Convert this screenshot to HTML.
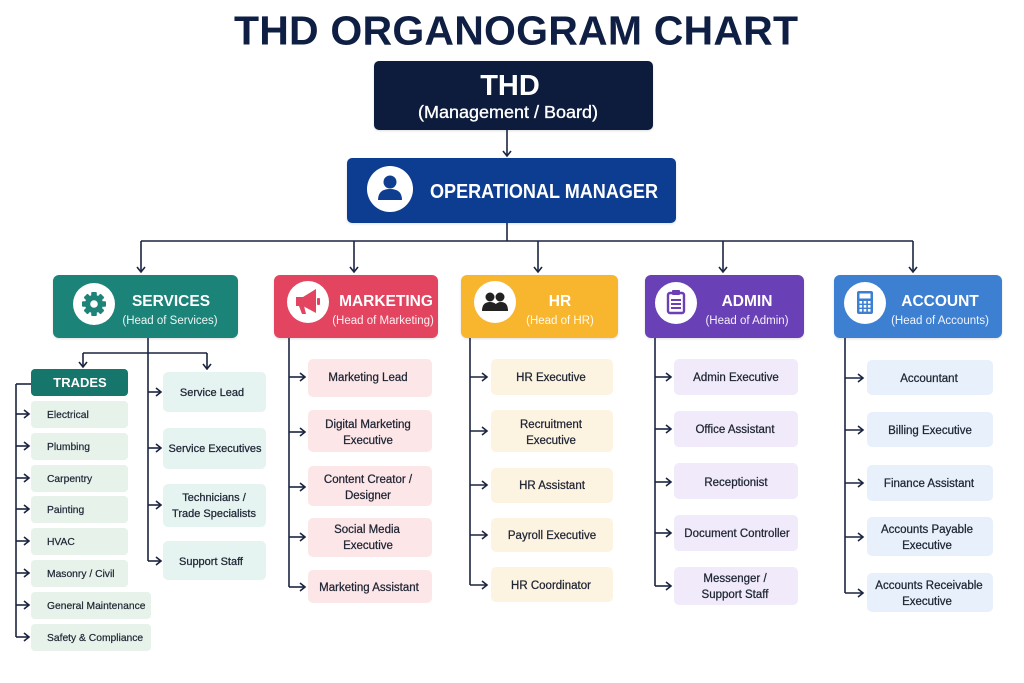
<!DOCTYPE html>
<html><head><meta charset="utf-8"><style>
html,body{margin:0;padding:0;background:#fff;}
svg{display:block;}
text{font-family:"Liberation Sans",Arial,sans-serif;}
.it{font-size:11.5px;fill:#1e2433;text-anchor:middle;stroke:#1e2433;stroke-width:0.25;}
.tr{font-size:10.3px;fill:#1e2433;stroke:#1e2433;stroke-width:0.2;}
.dt{font-size:15.5px;font-weight:bold;fill:#fff;text-anchor:middle;}
.ds{font-size:11.5px;fill:#fff;fill-opacity:0.92;text-anchor:middle;}
.ln{stroke:#1b2541;stroke-width:1.6;fill:none;}
</style></head><body>
<svg width="1024" height="683" viewBox="0 0 1024 683" xmlns="http://www.w3.org/2000/svg">
<defs>
<filter id="sh" x="-10%" y="-10%" width="120%" height="130%"><feDropShadow dx="0" dy="1" stdDeviation="1" flood-color="#000" flood-opacity="0.12"/></filter>
</defs>
<rect width="1024" height="683" fill="#ffffff"/>
<!-- Title -->
<text x="234" y="44.5" font-size="41" font-weight="bold" fill="#0f1f44" textLength="564" lengthAdjust="spacing">THD ORGANOGRAM CHART</text>

<!-- THD box -->
<rect x="374" y="61" width="279" height="69" rx="5" fill="#0b1a3c" filter="url(#sh)"/>
<text x="510" y="95" font-size="29" font-weight="bold" fill="#fff" text-anchor="middle">THD</text>
<text x="508" y="118" font-size="17.5" fill="#fff" stroke="#fff" stroke-width="0.35" text-anchor="middle" textLength="180" lengthAdjust="spacingAndGlyphs">(Management / Board)</text>

<!-- arrow THD -> OM -->
<line class="ln" x1="507" y1="130" x2="507" y2="156"/>
<polyline class="ln" points="503,151 507,156 511,151"/>

<!-- Op manager -->
<rect x="347" y="158" width="329" height="65" rx="5" fill="#0f3e91" filter="url(#sh)"/>
<circle cx="390" cy="189" r="23" fill="#fff"/>
<circle cx="390" cy="182" r="6.5" fill="#0f3e91"/>
<path d="M378,200 Q378,189 390,189 Q402,189 402,200 Z" fill="#0f3e91"/>
<text x="430" y="198" font-size="20" font-weight="bold" fill="#fff" textLength="228" lengthAdjust="spacingAndGlyphs">OPERATIONAL MANAGER</text>

<!-- main connectors -->
<line class="ln" x1="507" y1="223" x2="507" y2="241"/>
<line class="ln" x1="141" y1="241" x2="913" y2="241"/>
<g class="ln">
<line x1="141" y1="241" x2="141" y2="272"/><polyline points="137,267 141,272 145,267"/>
<line x1="354" y1="241" x2="354" y2="272"/><polyline points="350,267 354,272 358,267"/>
<line x1="538" y1="241" x2="538" y2="272"/><polyline points="534,267 538,272 542,267"/>
<line x1="723" y1="241" x2="723" y2="272"/><polyline points="719,267 723,272 727,267"/>
<line x1="913" y1="241" x2="913" y2="272"/><polyline points="909,267 913,272 917,267"/>
</g>

<!-- Department boxes -->
<rect x="53" y="275" width="185" height="63" rx="6" fill="#1e8379" filter="url(#sh)"/>
<rect x="274" y="275" width="164" height="63" rx="6" fill="#e34560" filter="url(#sh)"/>
<rect x="461" y="275" width="157" height="63" rx="6" fill="#f8b62d" filter="url(#sh)"/>
<rect x="645" y="275" width="159" height="63" rx="6" fill="#6b3fb6" filter="url(#sh)"/>
<rect x="834" y="275" width="168" height="63" rx="6" fill="#3d7fd1" filter="url(#sh)"/>

<!-- icons -->
<circle cx="94" cy="304" r="21" fill="#fff"/>
<g fill="#1e8379" transform="translate(94,304)">
<rect x="-2.8" y="-12" width="5.6" height="24" rx="1"/>
<rect x="-2.8" y="-12" width="5.6" height="24" rx="1" transform="rotate(45)"/>
<rect x="-2.8" y="-12" width="5.6" height="24" rx="1" transform="rotate(90)"/>
<rect x="-2.8" y="-12" width="5.6" height="24" rx="1" transform="rotate(135)"/>
<circle r="9"/>
<circle r="3.8" fill="#fff"/>
</g>
<circle cx="308" cy="302" r="21" fill="#fff"/>
<g fill="#e34560">
<path d="M296,297 L303,297 L316,289 L316,313 L303,306 L296,306 Z"/>
<rect x="317" y="298" width="3" height="7" rx="1"/>
<path d="M299,306 L304,306 L306,314 L302,314 Z"/>
</g>
<circle cx="495" cy="302" r="21" fill="#fff"/>
<g fill="#222">
<circle cx="490" cy="297" r="4.5"/>
<circle cx="500" cy="297" r="4.5"/>
<path d="M482,311 Q482,302 490,302 Q498,302 498,311 Z"/>
<path d="M494,311 Q494,302 501,302 Q508,302 508,311 Z"/>
</g>
<circle cx="676" cy="303" r="21" fill="#fff"/>
<g>
<rect x="668" y="293" width="16" height="20" rx="2" fill="none" stroke="#6b3fb6" stroke-width="2.4"/>
<rect x="672" y="290" width="8" height="5" rx="1" fill="#6b3fb6"/>
<line x1="671" y1="300" x2="681" y2="300" stroke="#6b3fb6" stroke-width="2"/>
<line x1="671" y1="304" x2="681" y2="304" stroke="#6b3fb6" stroke-width="2"/>
<line x1="671" y1="308" x2="681" y2="308" stroke="#6b3fb6" stroke-width="2"/>
</g>
<circle cx="865" cy="303" r="21" fill="#fff"/>
<g>
<rect x="857" y="291" width="16" height="23" rx="2" fill="#3d7fd1"/>
<rect x="859.5" y="293.5" width="11" height="5" fill="#fff"/>
<g fill="#fff">
<rect x="859.5" y="301" width="2.6" height="2.6"/><rect x="863.7" y="301" width="2.6" height="2.6"/><rect x="867.9" y="301" width="2.6" height="2.6"/>
<rect x="859.5" y="305" width="2.6" height="2.6"/><rect x="863.7" y="305" width="2.6" height="2.6"/><rect x="867.9" y="305" width="2.6" height="2.6"/>
<rect x="859.5" y="309" width="2.6" height="2.6"/><rect x="863.7" y="309" width="2.6" height="2.6"/><rect x="867.9" y="309" width="2.6" height="2.6"/>
</g>
</g>

<!-- dept labels -->
<text class="dt" x="171" y="306">SERVICES</text>
<text class="ds" x="170" y="324">(Head of Services)</text>
<text class="dt" x="386" y="306">MARKETING</text>
<text class="ds" x="383" y="324">(Head of Marketing)</text>
<text class="dt" x="560" y="306">HR</text>
<text class="ds" x="560" y="324">(Head of HR)</text>
<text class="dt" x="747" y="306">ADMIN</text>
<text class="ds" x="747" y="324">(Head of Admin)</text>
<text class="dt" x="940" y="306">ACCOUNT</text>
<text class="ds" x="940" y="324">(Head of Accounts)</text>

<!-- SERVICES sub connectors -->
<g class="ln">
<line x1="148" y1="338" x2="148" y2="561"/>
<line x1="83" y1="353" x2="207" y2="353"/>
<line x1="83" y1="353" x2="83" y2="367"/><polyline points="79,362 83,367 87,362"/>
<line x1="207" y1="353" x2="207" y2="369"/><polyline points="203,364 207,369 211,364"/>
<line x1="148" y1="392" x2="161" y2="392"/><polyline points="156,388 161,392 156,396"/>
<line x1="148" y1="448" x2="161" y2="448"/><polyline points="156,444 161,448 156,452"/>
<line x1="148" y1="505" x2="161" y2="505"/><polyline points="156,501 161,505 156,509"/>
<line x1="148" y1="561" x2="161" y2="561"/><polyline points="156,557 161,561 156,565"/>
<line x1="31" y1="384" x2="16" y2="384"/>
<line x1="16" y1="384" x2="16" y2="637"/>
<line x1="16" y1="414" x2="29" y2="414"/><polyline points="24,410 29,414 24,418"/>
<line x1="16" y1="446" x2="29" y2="446"/><polyline points="24,442 29,446 24,450"/>
<line x1="16" y1="478" x2="29" y2="478"/><polyline points="24,474 29,478 24,482"/>
<line x1="16" y1="509" x2="29" y2="509"/><polyline points="24,505 29,509 24,513"/>
<line x1="16" y1="541" x2="29" y2="541"/><polyline points="24,537 29,541 24,545"/>
<line x1="16" y1="573" x2="29" y2="573"/><polyline points="24,569 29,573 24,577"/>
<line x1="16" y1="605" x2="29" y2="605"/><polyline points="24,601 29,605 24,609"/>
<line x1="16" y1="637" x2="29" y2="637"/><polyline points="24,633 29,637 24,641"/>
</g>

<!-- TRADES box -->
<rect x="31" y="369" width="97" height="27" rx="4" fill="#17766b"/>
<text x="80" y="387" font-size="13" font-weight="bold" fill="#fff" text-anchor="middle">TRADES</text>
<g fill="#e6f2ea">
<rect x="31" y="401" width="97" height="27" rx="4"/>
<rect x="31" y="433" width="97" height="27" rx="4"/>
<rect x="31" y="465" width="97" height="27" rx="4"/>
<rect x="31" y="496" width="97" height="27" rx="4"/>
<rect x="31" y="528" width="97" height="27" rx="4"/>
<rect x="31" y="560" width="97" height="27" rx="4"/>
<rect x="31" y="592" width="120" height="27" rx="4"/>
<rect x="31" y="624" width="120" height="27" rx="4"/>
</g>
<text class="tr" x="47" y="418">Electrical</text>
<text class="tr" x="47" y="450">Plumbing</text>
<text class="tr" x="47" y="482">Carpentry</text>
<text class="tr" x="47" y="513">Painting</text>
<text class="tr" x="47" y="545">HVAC</text>
<text class="tr" x="47" y="577">Masonry / Civil</text>
<text class="tr" x="47" y="609">General Maintenance</text>
<text class="tr" x="47" y="641">Safety &amp; Compliance</text>

<!-- Services items -->
<g fill="#e5f3f1">
<rect x="163" y="372" width="103" height="40" rx="5"/>
<rect x="163" y="428" width="103" height="41" rx="5"/>
<rect x="163" y="484" width="103" height="43" rx="5"/>
<rect x="163" y="541" width="103" height="39" rx="5"/>
</g>
<g class="it" style="font-size:11px">
<text x="212" y="396">Service Lead</text>
<text x="215" y="452">Service Executives</text>
<text x="214" y="501">Technicians /</text>
<text x="214" y="517">Trade Specialists</text>
<text x="211" y="565">Support Staff</text>
</g>

<!-- Marketing -->
<g class="ln">
<line x1="289" y1="338" x2="289" y2="587"/>
<line x1="289" y1="377" x2="305" y2="377"/><polyline points="300,373 305,377 300,381"/>
<line x1="289" y1="432" x2="305" y2="432"/><polyline points="300,428 305,432 300,436"/>
<line x1="289" y1="487" x2="305" y2="487"/><polyline points="300,483 305,487 300,491"/>
<line x1="289" y1="537" x2="305" y2="537"/><polyline points="300,533 305,537 300,541"/>
<line x1="289" y1="587" x2="305" y2="587"/><polyline points="300,583 305,587 300,591"/>
</g>
<g fill="#fde6e8">
<rect x="308" y="359" width="124" height="38" rx="5"/>
<rect x="308" y="410" width="124" height="42" rx="5"/>
<rect x="308" y="466" width="124" height="40" rx="5"/>
<rect x="308" y="518" width="124" height="39" rx="5"/>
<rect x="308" y="570" width="124" height="33" rx="5"/>
</g>
<g class="it">
<text x="368" y="381">Marketing Lead</text>
<text x="368" y="428">Digital Marketing</text>
<text x="368" y="444">Executive</text>
<text x="368" y="483">Content Creator /</text>
<text x="368" y="499">Designer</text>
<text x="367" y="533">Social Media</text>
<text x="368" y="549">Executive</text>
<text x="369" y="591">Marketing Assistant</text>
</g>

<!-- HR -->
<g class="ln">
<line x1="470" y1="338" x2="470" y2="585"/>
<line x1="470" y1="377" x2="487" y2="377"/><polyline points="482,373 487,377 482,381"/>
<line x1="470" y1="431" x2="487" y2="431"/><polyline points="482,427 487,431 482,435"/>
<line x1="470" y1="485" x2="487" y2="485"/><polyline points="482,481 487,485 482,489"/>
<line x1="470" y1="535" x2="487" y2="535"/><polyline points="482,531 487,535 482,539"/>
<line x1="470" y1="585" x2="487" y2="585"/><polyline points="482,581 487,585 482,589"/>
</g>
<g fill="#fdf3e1">
<rect x="491" y="359" width="122" height="36" rx="5"/>
<rect x="491" y="410" width="122" height="42" rx="5"/>
<rect x="491" y="468" width="122" height="35" rx="5"/>
<rect x="491" y="518" width="122" height="34" rx="5"/>
<rect x="491" y="567" width="122" height="35" rx="5"/>
</g>
<g class="it">
<text x="551" y="381">HR Executive</text>
<text x="551" y="428">Recruitment</text>
<text x="551" y="444">Executive</text>
<text x="552" y="489">HR Assistant</text>
<text x="552" y="539">Payroll Executive</text>
<text x="551" y="589">HR Coordinator</text>
</g>

<!-- Admin -->
<g class="ln">
<line x1="655" y1="338" x2="655" y2="586"/>
<line x1="655" y1="377" x2="671" y2="377"/><polyline points="666,373 671,377 666,381"/>
<line x1="655" y1="429" x2="671" y2="429"/><polyline points="666,425 671,429 666,433"/>
<line x1="655" y1="482" x2="671" y2="482"/><polyline points="666,478 671,482 666,486"/>
<line x1="655" y1="533" x2="671" y2="533"/><polyline points="666,529 671,533 666,537"/>
<line x1="655" y1="586" x2="671" y2="586"/><polyline points="666,582 671,586 666,590"/>
</g>
<g fill="#f0eafa">
<rect x="674" y="359" width="124" height="36" rx="5"/>
<rect x="674" y="411" width="124" height="36" rx="5"/>
<rect x="674" y="463" width="124" height="36" rx="5"/>
<rect x="674" y="515" width="124" height="36" rx="5"/>
<rect x="674" y="567" width="124" height="38" rx="5"/>
</g>
<g class="it">
<text x="736" y="381">Admin Executive</text>
<text x="735" y="433">Office Assistant</text>
<text x="736" y="486">Receptionist</text>
<text x="737" y="537">Document Controller</text>
<text x="735" y="582">Messenger /</text>
<text x="735" y="598">Support Staff</text>
</g>

<!-- Account -->
<g class="ln">
<line x1="845" y1="338" x2="845" y2="593"/>
<line x1="845" y1="378" x2="863" y2="378"/><polyline points="858,374 863,378 858,382"/>
<line x1="845" y1="430" x2="863" y2="430"/><polyline points="858,426 863,430 858,434"/>
<line x1="845" y1="483" x2="863" y2="483"/><polyline points="858,479 863,483 858,487"/>
<line x1="845" y1="537" x2="863" y2="537"/><polyline points="858,533 863,537 858,541"/>
<line x1="845" y1="593" x2="863" y2="593"/><polyline points="858,589 863,593 858,597"/>
</g>
<g fill="#e7f0fb">
<rect x="867" y="360" width="126" height="35" rx="5"/>
<rect x="867" y="412" width="126" height="35" rx="5"/>
<rect x="867" y="465" width="126" height="36" rx="5"/>
<rect x="867" y="517" width="126" height="39" rx="5"/>
<rect x="867" y="573" width="126" height="39" rx="5"/>
</g>
<g class="it">
<text x="929" y="382">Accountant</text>
<text x="930" y="434">Billing Executive</text>
<text x="929" y="487">Finance Assistant</text>
<text x="927" y="533">Accounts Payable</text>
<text x="927" y="549">Executive</text>
<text x="929" y="589">Accounts Receivable</text>
<text x="927" y="605">Executive</text>
</g>
</svg>
</body></html>
